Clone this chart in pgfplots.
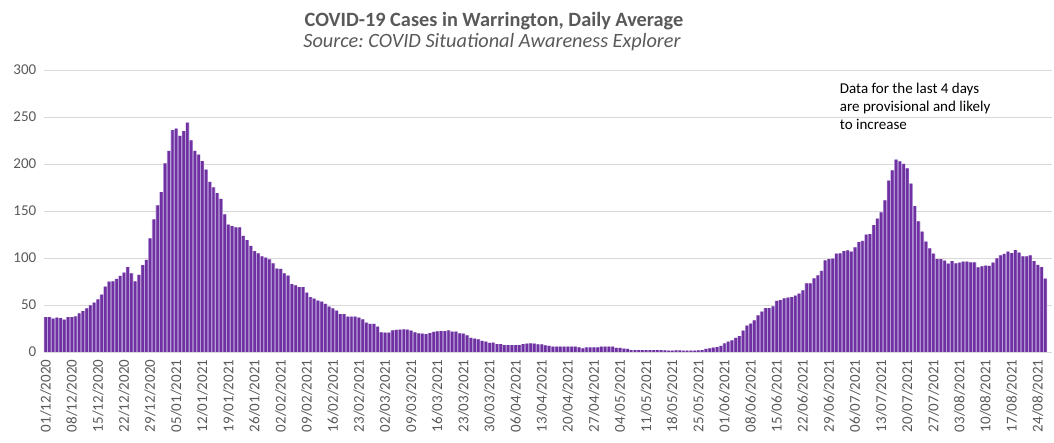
\documentclass[border=0pt]{standalone}
\usepackage{pgfplots}
\usepackage{pgfplotstable}
\pgfplotsset{compat=1.18}
\usepackage{fontspec}
\setmainfont{Carlito}
\frenchspacing
\definecolor{barpurple}{HTML}{7030A0}
\definecolor{barlight}{HTML}{B7A1DB}
\definecolor{txtgray}{HTML}{595959}
\definecolor{gridgray}{HTML}{D9D9D9}
\pgfplotstableread{
i v
0 37.2
1 37.0
2 35.5
3 36.5
4 36.0
5 34.5
6 37.0
7 37.0
8 38.0
9 41.0
10 43.6
11 46.5
12 49.6
13 52.5
14 56.0
15 61.0
16 69.5
17 74.8
18 75.0
19 77.7
20 81.0
21 84.4
22 90.4
23 83.7
24 75.0
25 82.0
26 92.5
27 98.0
28 121.0
29 141.0
30 156.0
31 170.0
32 200.7
33 214.0
34 236.0
35 237.6
36 230.0
37 235.0
38 244.0
39 225.0
40 214.0
41 210.0
42 203.0
43 194.0
44 181.0
45 175.0
46 169.0
47 163.0
48 146.5
49 135.5
50 134.0
51 132.6
52 132.6
53 123.4
54 119.0
55 112.8
56 107.4
57 105.0
58 101.8
59 100.4
60 98.6
61 94.3
62 88.7
63 88.3
64 83.7
65 81.2
66 72.3
67 70.9
68 69.1
69 69.1
70 63.1
71 58.5
72 56.7
73 54.6
74 53.5
75 51.1
76 48.2
77 46.5
78 44.0
79 40.4
80 40.4
81 37.6
82 37.6
83 37.6
84 36.5
85 34.8
86 31.2
87 29.8
88 29.8
89 27.0
90 20.9
91 20.6
92 20.6
93 23.0
94 23.4
95 23.8
96 24.1
97 23.8
98 22.7
99 20.9
100 19.9
101 19.5
102 19.1
103 20.2
104 21.3
105 22.0
106 22.3
107 22.3
108 23.0
109 21.6
110 21.6
111 19.9
112 19.5
113 17.7
114 14.9
115 14.2
116 13.5
117 11.7
118 11.0
119 9.6
120 9.9
121 8.5
122 8.5
123 7.4
124 7.4
125 7.4
126 7.4
127 7.4
128 8.5
129 8.9
130 9.2
131 8.9
132 8.2
133 8.2
134 7.1
135 6.4
136 5.7
137 5.7
138 5.7
139 5.7
140 5.7
141 5.7
142 5.7
143 5.0
144 3.9
145 5.0
146 5.0
147 5.0
148 5.0
149 5.7
150 5.7
151 5.7
152 5.7
153 4.3
154 4.3
155 3.5
156 3.2
157 2.1
158 2.1
159 2.1
160 2.1
161 2.1
162 2.1
163 2.1
164 2.1
165 2.1
166 1.8
167 1.4
168 1.4
169 1.8
170 1.8
171 1.4
172 1.4
173 1.4
174 1.4
175 1.8
176 2.1
177 3.2
178 3.9
179 4.6
180 5.3
181 6.4
182 9.2
183 11.0
184 12.4
185 14.9
186 17.0
187 22.7
188 28.0
189 30.1
190 33.7
191 39.0
192 42.9
193 46.8
194 46.8
195 48.6
196 54.3
197 55.3
198 57.1
199 57.8
200 58.5
201 59.9
202 62.1
203 65.6
204 73.0
205 73.0
206 78.4
207 81.6
208 86.2
209 97.5
210 98.9
211 99.3
212 104.6
213 105.0
214 107.4
215 108.2
216 106.7
217 111.3
218 117.0
219 118.1
220 124.8
221 125.5
222 135.1
223 141.8
224 148.6
225 161.3
226 182.3
227 193.3
228 204.6
229 202.8
230 200.0
231 195.4
232 179.1
233 155.3
234 139.0
235 128.0
236 117.4
237 110.3
238 104.6
239 98.9
240 98.9
241 97.2
242 94.0
243 96.8
244 94.3
245 95.0
246 96.1
247 96.1
248 95.4
249 95.4
250 90.1
251 91.1
252 91.8
253 91.5
254 95.0
255 99.6
256 102.8
257 104.3
258 106.7
259 105.3
260 108.5
261 105.7
262 101.8
263 101.8
264 102.8
265 96.8
266 92.6
267 90.4
268 78.0
}\casedata
\begin{document}
\begin{tikzpicture}[x=1pt,y=1pt]
\useasboundingbox (0,0) rectangle (1054,443);
\node[anchor=base, inner sep=0, font=\fontsize{20.3}{24}\selectfont\bfseries, text=txtgray] at (494,416) {COVID-19 Cases in Warrington, Daily Average};
\node[anchor=base, inner sep=0, font=\fontsize{20.3}{24}\selectfont\itshape, text=txtgray] at (492,395) {Source: COVID Situational Awareness Explorer};
\begin{axis}[
  at={(43.8pt,91pt)}, anchor=south west,
  scale only axis, width=1007.8pt, height=282pt,
  xmin=-0.5, xmax=269.7, ymin=0, ymax=300,
  ytick={0,50,...,300},
  xtick={0,7,...,266},
  xticklabels={01/12/2020,08/12/2020,15/12/2020,22/12/2020,29/12/2020,05/01/2021,12/01/2021,19/01/2021,26/01/2021,02/02/2021,09/02/2021,16/02/2021,23/02/2021,02/03/2021,09/03/2021,16/03/2021,23/03/2021,30/03/2021,06/04/2021,13/04/2021,20/04/2021,27/04/2021,04/05/2021,11/05/2021,18/05/2021,25/05/2021,01/06/2021,08/06/2021,15/06/2021,22/06/2021,29/06/2021,06/07/2021,13/07/2021,20/07/2021,27/07/2021,03/08/2021,10/08/2021,17/08/2021,24/08/2021},
  ymajorgrids, major grid style={gridgray, line width=0.9pt},
  axis line style={draw=none},
  tick style={draw=none},
  ticklabel style={font=\fontsize{15}{18}\selectfont, text=txtgray},
  xticklabel style={rotate=90, anchor=east},
  yticklabel style={xshift=-4pt},
  /pgf/number format/assume math mode=true,
  ybar, clip=false,
]
\addplot[fill=barlight, draw=none, bar shift=0pt, bar width=1] table[x=i,y=v]{\casedata};
\addplot[fill=barpurple, draw=none, bar shift=0pt, bar width=0.66] table[x=i,y=v]{\casedata};
\node[anchor=north west, inner sep=0, align=left, text=black, font=\fontsize{15}{18.2}\selectfont] at (axis cs:212.9,286.5) {Data for the last 4 days\\are provisional and likely\\to increase};
\end{axis}
\end{tikzpicture}
\end{document}
